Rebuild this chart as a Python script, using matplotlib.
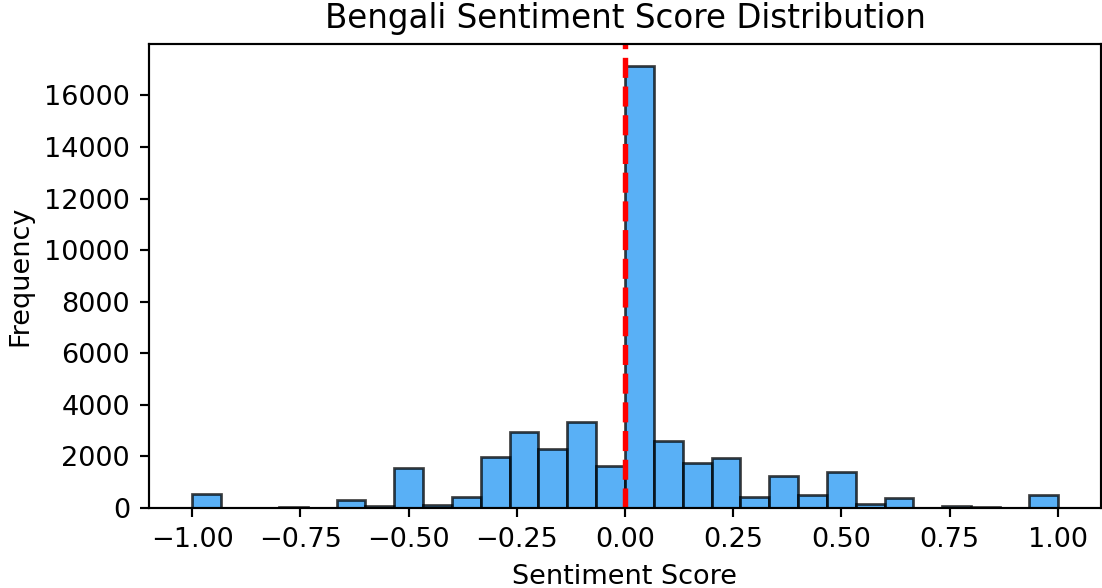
import matplotlib
matplotlib.use("Agg")
import matplotlib.pyplot as plt
import numpy as np

# counts per bin, 30 equal bins over [-1, 1]
bin_edges = np.linspace(-1.0, 1.0, 31)
counts = [550, 0, 0, 50, 0, 320, 90, 1570, 130, 425,
          1975, 2950, 2300, 3330, 1630, 17140, 2580, 1750, 1935, 440,
          1230, 490, 1405, 170, 400, 0, 80, 40, 0, 490]
y_ticks = np.arange(0, 16001, 2000)

DPI = 195
fig = plt.figure(figsize=(1102 / DPI, 588 / DPI), dpi=DPI)
ax = fig.add_axes([149 / 1102, 1 - 508 / 588, 952 / 1102, 464 / 588])

ax.hist(bin_edges[:-1], bins=bin_edges, weights=counts,
        color="#2196F3", edgecolor="black", alpha=0.75, linewidth=1.0)
ax.axvline(0, color="red", linestyle="--", linewidth=2)
ax.set_yticks(y_ticks)

ax.set_title("Bengali Sentiment Score Distribution")
ax.set_xlabel("Sentiment Score")
ax.set_ylabel("Frequency")

fig.savefig("out.png", dpi=DPI)
